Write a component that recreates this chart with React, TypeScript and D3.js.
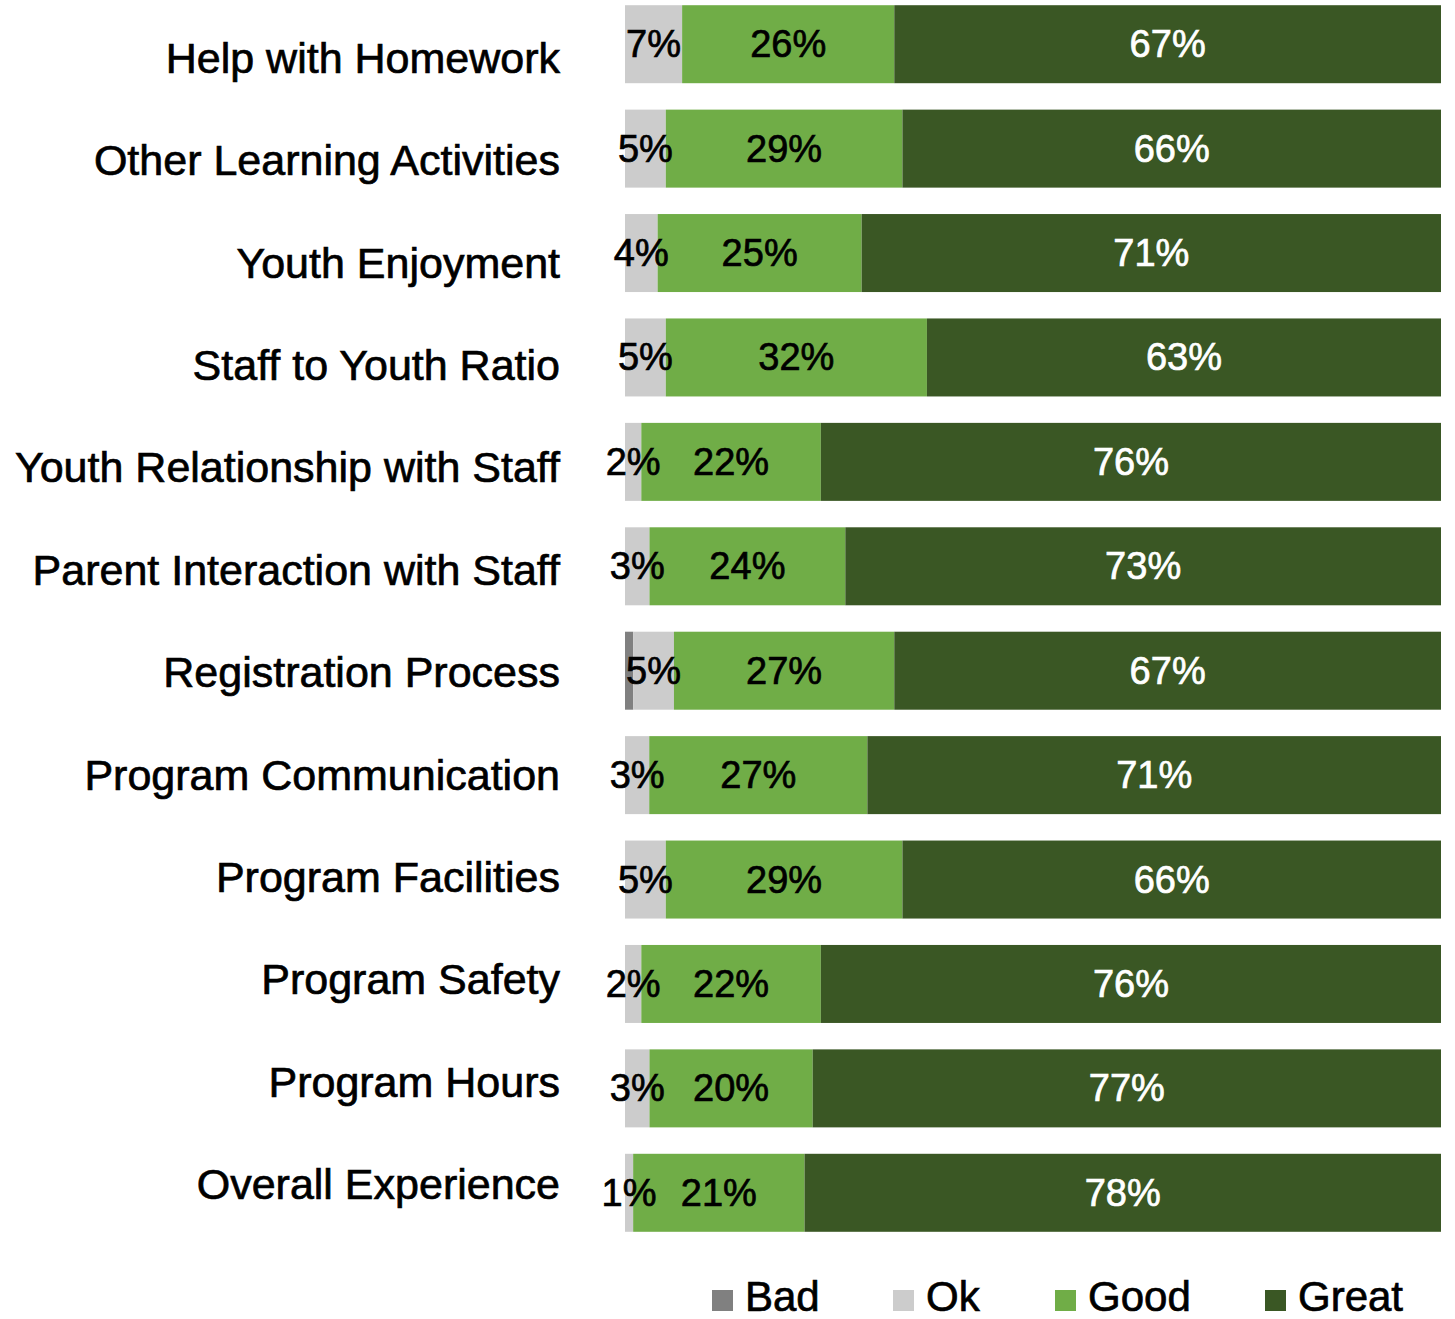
import React from "react";
import * as d3 from "d3";

// categories top to bottom
const categories = [
  "Help with Homework",
  "Other Learning Activities",
  "Youth Enjoyment",
  "Staff to Youth Ratio",
  "Youth Relationship with Staff",
  "Parent Interaction with Staff",
  "Registration Process",
  "Program Communication",
  "Program Facilities",
  "Program Safety",
  "Program Hours",
  "Overall Experience",
];

const seriesNames = ["Bad", "Ok", "Good", "Great"];
const bad = [0, 0, 0, 0, 0, 0, 1, 0, 0, 0, 0, 0];
const ok = [7, 5, 4, 5, 2, 3, 5, 3, 5, 2, 3, 1];
const good = [26, 29, 25, 32, 22, 24, 27, 27, 29, 22, 20, 21];
const great = [67, 66, 71, 63, 76, 73, 67, 71, 66, 76, 77, 78];

const colors = ["#808080", "#cccccc", "#70ad47", "#3a5724"];
const labelColors = ["#000", "#000", "#000", "#fff"];
const showLabel = [false, true, true, true];

const width = 1455;
const height = 1319;
const font = "'Liberation Sans', Arial, Helvetica, sans-serif";

export default function App() {
  const series = [bad, ok, good, great];

  const x = d3.scaleLinear().domain([0, 100]).range([625, 1441]);
  const y = d3.scaleBand<string>()
    .domain(categories)
    .range([-8, 1245])
    .paddingInner(0.253)
    .paddingOuter(0.1265);
  // category labels sit on a slightly tighter spacing than the bars
  const yLabel = d3.scalePoint<string>().domain(categories).range([58, 1184]);

  // segmentos apilados por fila
  const segs = categories.flatMap((c, i) => {
    const total = d3.sum(series, (s) => s[i]);
    let acc = 0;
    return series.map((s, k) => {
      const v = s[i];
      const x0 = x((acc / total) * 100);
      acc += v;
      const x1 = x((acc / total) * 100);
      return { c, k, v, x0, x1 };
    });
  }).filter((d) => d.v > 0);

  const legendX = [712, 893, 1055, 1265];

  return (
    <svg
      width={width}
      height={height}
      style={{ position: "absolute", left: 0, top: 0, fontFamily: font }}
    >
      {/* Etiquetas de categoría */}
      {categories.map((c) => (
        <text
          key={c}
          x={560}
          y={yLabel(c)}
          textAnchor="end"
          dominantBaseline="central"
          fontSize={43}
          fill="#000"
          stroke="#000"
          strokeWidth={0.7}
        >
          {c}
        </text>
      ))}

      {/* Barras apiladas */}
      {segs.map((d) => (
        <rect
          key={`${d.c}-${d.k}`}
          x={d.x0}
          y={y(d.c)}
          width={d.x1 - d.x0}
          height={y.bandwidth()}
          fill={colors[d.k]}
        />
      ))}

      {/* Valores */}
      {segs.filter((d) => showLabel[d.k]).map((d) => (
        <text
          key={`${d.c}-${d.k}-t`}
          x={(d.x0 + d.x1) / 2}
          y={(y(d.c) ?? 0) + y.bandwidth() / 2}
          textAnchor="middle"
          dominantBaseline="central"
          fontSize={38}
          fill={labelColors[d.k]}
          stroke={labelColors[d.k]}
          strokeWidth={0.7}
        >
          {d.v}%
        </text>
      ))}

      {/* Leyenda */}
      {seriesNames.map((n, k) => (
        <g key={n} transform={`translate(${legendX[k]},1290)`}>
          <rect x={0} y={0} width={21} height={21} fill={colors[k]} />
          <text x={33} y={21} fontSize={42} fill="#000" stroke="#000" strokeWidth={0.7}>
            {n}
          </text>
        </g>
      ))}
    </svg>
  );
}
